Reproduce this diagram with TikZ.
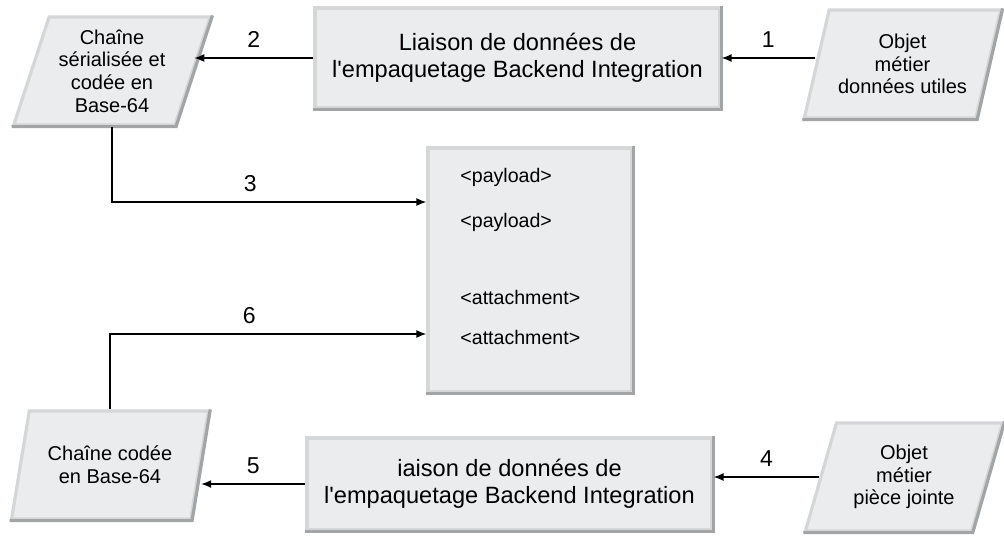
\documentclass[tikz,border=0pt]{standalone}
\usepackage{fontspec}
\setmainfont{Liberation Sans}
\usetikzlibrary{shapes.geometric,arrows.meta}
\definecolor{boxfill}{HTML}{EBECEE}
\definecolor{boxlight}{HTML}{D5D6D8}
\definecolor{boxdark}{HTML}{A3A4A6}

\begin{document}
\begin{tikzpicture}[x=0.5pt, y=-0.5pt,
        box/.style={rectangle, fill=boxfill, draw=boxlight, line width=1.6pt, align=center, inner sep=0pt,
            font=\fontsize{11.8}{13.5}\selectfont},
        para/.style={trapezium, trapezium left angle=70, trapezium right angle=110, trapezium stretches=true,
            minimum width=99pt, minimum height=54pt, fill=boxfill, draw=boxlight, line width=1.6pt,
            align=center, inner sep=0pt, font=\fontsize{10}{11.3}\selectfont},
        bevel/.style={draw=boxdark, line width=1.6pt},
        arrow/.style={-{Latex[length=5pt,width=4pt]}, line width=0.75pt},
        num/.style={inner sep=0pt, font=\fontsize{11.5}{13}\selectfont},
        tag/.style={anchor=west, inner sep=0pt, font=\fontsize{9.8}{12}\selectfont}]
        \useasboundingbox (0,0) rectangle (1004,536);

        % top row
        \node[para] (serial) at (112,71) {Chaîne\\sérialisée et\\codée en\\Base-64};
        \node[box, minimum width=202.5pt, minimum height=50pt] (bind-top) at (517.5,58)
            {Liaison de données de\\l\textquotesingle empaquetage Backend Integration};
        \node[para] (payload-obj) at (902.5,64) {Objet\\métier\\données utiles};

        % message in the middle
        \node[box, minimum width=102pt, minimum height=122pt] (msg) at (530,270) {};
        \node[tag] (pl-1) at (460,177) {<payload>};
        \node[tag] (pl-2) at (460,222) {<payload>};
        \node[tag] (at-1) at (460,297) {<attachment>};
        \node[tag] (at-2) at (460,337) {<attachment>};

        % bottom row
        \node[para] (encoded) at (110,465) {Chaîne codée\\en Base-64};
        \node[box, minimum width=202.5pt, minimum height=46pt] (bind-bot) at (509.5,484)
            {iaison de données de\\l\textquotesingle empaquetage Backend Integration};
        \node[para] (attach-obj) at (904,477) {Objet\\métier\\pièce jointe};

        % darker lower and right edges
        \foreach \n in {serial,payload-obj,encoded,attach-obj} {
                \draw[bevel] (\n.top right corner) -- (\n.bottom right corner) -- (\n.bottom left corner);
            }
        \foreach \n in {bind-top,msg,bind-bot} {
                \draw[bevel] (\n.north east) -- (\n.south east) -- (\n.south west);
            }

        % connectors
        \draw[arrow] (payload-obj.west |- bind-top.east) -- (bind-top.east)
            node[num, midway, above=5pt] (n-1) {1};
        \draw[arrow] (bind-top.west) -- (serial.east |- bind-top.west)
            node[num, midway, above=5pt] (n-2) {2};
        \draw[arrow] (serial.south) |- ([yshift=34pt]msg.west)
            node[num, pos=0.72, above=5pt] (n-3) {3};
        \draw[arrow] (attach-obj.west) -- (attach-obj.west -| bind-bot.east)
            node[num, midway, above=5pt] (n-4) {4};
        \draw[arrow] (bind-bot.west) -- (encoded.east |- bind-bot.west)
            node[num, midway, above=5pt] (n-5) {5};
        \draw[arrow] (encoded.north) |- ([yshift=-32pt]msg.west)
            node[num, pos=0.72, above=5pt] (n-6) {6};
    \end{tikzpicture}
\end{document}
